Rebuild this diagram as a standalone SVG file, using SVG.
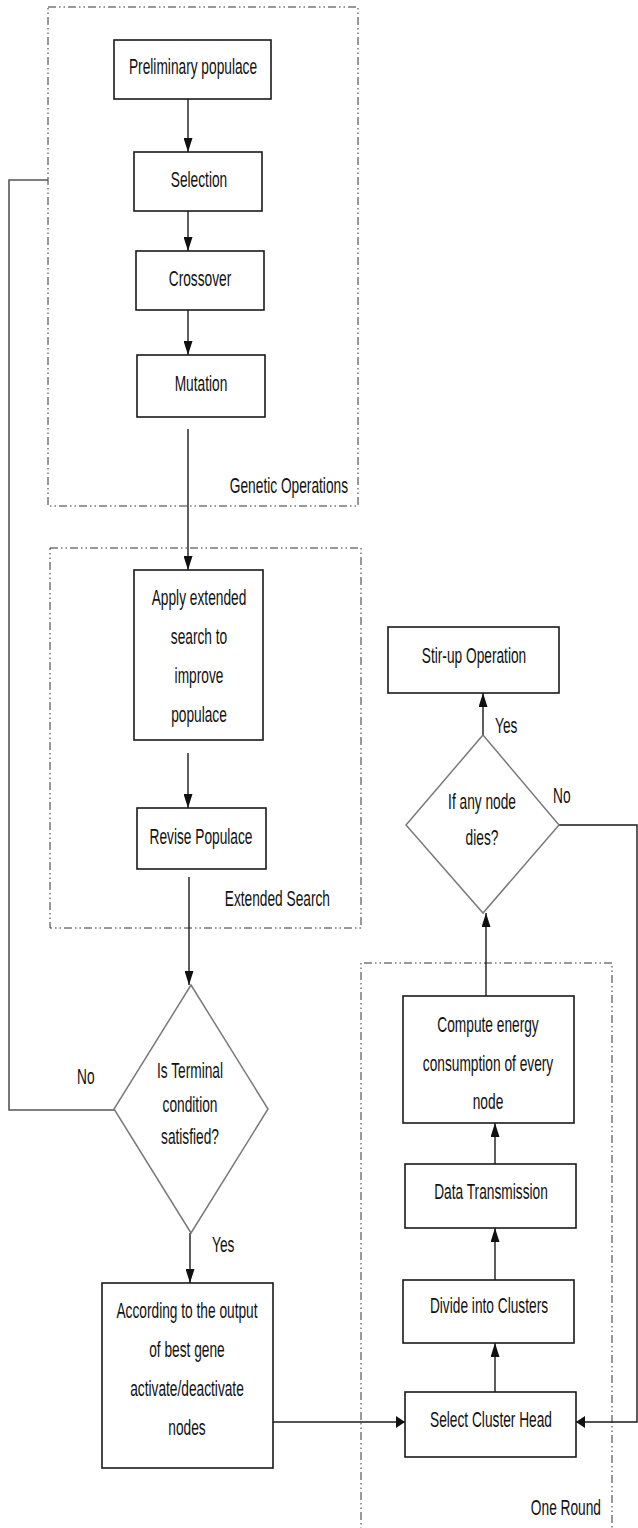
<svg xmlns="http://www.w3.org/2000/svg" width="638" height="1528" viewBox="0 0 638 1528">
<defs>
<style>
.bg{fill:#ffffff}
.box{fill:#ffffff;stroke:#1a1a1a;stroke-width:1.6}
.dia{fill:#ffffff;stroke:#7a7a7a;stroke-width:1.5}
.grp{fill:none;stroke:#333333;stroke-width:1;stroke-dasharray:8 3 1.5 3 1.5 3}
.ln{fill:none;stroke:#1a1a1a;stroke-width:1.4}
.lng{fill:none;stroke:#555555;stroke-width:1.6}
text{font-family:"Liberation Sans",Arial,sans-serif;font-size:22.5px;fill:#111111}
.c{text-anchor:middle}
.e{text-anchor:end}
</style>
<marker id="av" viewBox="0 0 14 9" refX="14" refY="4.5" markerWidth="14" markerHeight="9" markerUnits="userSpaceOnUse" orient="auto">
<path d="M0,0 L14,4.5 L0,9 z" fill="#111111"/>
</marker>
<marker id="ah" viewBox="0 0 9 12" refX="9" refY="6" markerWidth="9" markerHeight="12" markerUnits="userSpaceOnUse" orient="auto">
<path d="M0,0 L9,6 L0,12 z" fill="#111111"/>
</marker>
</defs>
<rect class="bg" x="0" y="0" width="638" height="1528"/>

<g id="group-genetic">
<rect class="grp" x="48" y="7" width="310" height="499"/>
<text class="e" transform="translate(348 493) scale(0.61 1)">Genetic Operations</text>
</g>
<g id="group-extended">
<rect class="grp" x="50" y="548" width="311" height="380"/>
<text class="e" transform="translate(330 906) scale(0.61 1)">Extended Search</text>
</g>
<g id="group-oneround">
<path class="grp" d="M361,1540 L361,963 L612,963 L612,1540"/>
<text class="e" transform="translate(601 1515) scale(0.61 1)">One Round</text>
</g>

<g id="connectors">
<line class="ln" x1="188" y1="99" x2="188" y2="152" marker-end="url(#av)"/>
<line class="ln" x1="188" y1="211" x2="188" y2="251" marker-end="url(#av)"/>
<line class="ln" x1="188" y1="310" x2="188" y2="355" marker-end="url(#av)"/>
<line class="ln" x1="188" y1="429" x2="188" y2="570" marker-end="url(#av)"/>
<line class="ln" x1="188" y1="753" x2="188" y2="808" marker-end="url(#av)"/>
<line class="ln" x1="189" y1="877" x2="189" y2="985" marker-end="url(#av)"/>
<line class="ln" x1="190" y1="1233" x2="190" y2="1283" marker-end="url(#av)"/>
<polyline class="lng" points="114,1110 9,1110 9,180 48,180"/>
<line class="ln" x1="273" y1="1422" x2="405" y2="1422" marker-end="url(#ah)"/>
<line class="ln" x1="495" y1="1392" x2="495" y2="1343" marker-end="url(#av)"/>
<line class="ln" x1="495" y1="1280" x2="495" y2="1228" marker-end="url(#av)"/>
<line class="ln" x1="495" y1="1164" x2="495" y2="1123" marker-end="url(#av)"/>
<line class="ln" x1="486" y1="996" x2="486" y2="913" marker-end="url(#av)"/>
<line class="ln" x1="483" y1="735" x2="483" y2="693" marker-end="url(#av)"/>
<polyline class="ln" points="559,825 637,825 637,1422 576,1422" marker-end="url(#ah)"/>
<text transform="translate(77 1084) scale(0.61 1)">No</text>
<text transform="translate(212 1252) scale(0.61 1)">Yes</text>
<text transform="translate(495 733) scale(0.61 1)">Yes</text>
<text transform="translate(553 803) scale(0.61 1)">No</text>
</g>

<g id="node-preliminary">
<rect class="box" x="114" y="40" width="157" height="59"/>
<text class="c" transform="translate(193 74) scale(0.61 1)">Preliminary populace</text>
</g>
<g id="node-selection">
<rect class="box" x="134" y="152" width="128" height="59"/>
<text class="c" transform="translate(199 187) scale(0.61 1)">Selection</text>
</g>
<g id="node-crossover">
<rect class="box" x="136" y="251" width="128" height="59"/>
<text class="c" transform="translate(200 286) scale(0.61 1)">Crossover</text>
</g>
<g id="node-mutation">
<rect class="box" x="137" y="355" width="128" height="62"/>
<text class="c" transform="translate(201 391) scale(0.61 1)">Mutation</text>
</g>
<g id="node-apply">
<rect class="box" x="134" y="570" width="129" height="170"/>
<text class="c" transform="translate(199 605) scale(0.61 1)">Apply extended</text>
<text class="c" transform="translate(199 644) scale(0.61 1)">search to</text>
<text class="c" transform="translate(199 683) scale(0.61 1)">improve</text>
<text class="c" transform="translate(199 722) scale(0.61 1)">populace</text>
</g>
<g id="node-revise">
<rect class="box" x="137" y="808" width="129" height="61"/>
<text class="c" transform="translate(201 844) scale(0.61 1)">Revise Populace</text>
</g>
<g id="node-terminal">
<polygon class="dia" points="191,985 268,1109 191,1233 114,1109"/>
<text class="c" transform="translate(190 1078) scale(0.61 1)">Is Terminal</text>
<text class="c" transform="translate(190 1112) scale(0.61 1)">condition</text>
<text class="c" transform="translate(190 1144) scale(0.61 1)">satisfied?</text>
</g>
<g id="node-according">
<rect class="box" x="102" y="1283" width="171" height="185"/>
<text class="c" transform="translate(187 1318) scale(0.61 1)">According to the output</text>
<text class="c" transform="translate(187 1357) scale(0.61 1)">of best gene</text>
<text class="c" transform="translate(187 1396) scale(0.61 1)">activate/deactivate</text>
<text class="c" transform="translate(187 1435) scale(0.61 1)">nodes</text>
</g>
<g id="node-stirup">
<rect class="box" x="388" y="627" width="171" height="66"/>
<text class="c" transform="translate(474 663) scale(0.61 1)">Stir-up Operation</text>
</g>
<g id="node-dies">
<polygon class="dia" points="483,735 559,825 483,913 406,825"/>
<text class="c" transform="translate(482 809) scale(0.61 1)">If any node</text>
<text class="c" transform="translate(482 845) scale(0.61 1)">dies?</text>
</g>
<g id="node-compute">
<rect class="box" x="403" y="996" width="171" height="127"/>
<text class="c" transform="translate(488 1032) scale(0.61 1)">Compute energy</text>
<text class="c" transform="translate(488 1071) scale(0.61 1)">consumption of every</text>
<text class="c" transform="translate(488 1109) scale(0.61 1)">node</text>
</g>
<g id="node-data">
<rect class="box" x="405" y="1164" width="171" height="64"/>
<text class="c" transform="translate(491 1199) scale(0.61 1)">Data Transmission</text>
</g>
<g id="node-divide">
<rect class="box" x="403" y="1280" width="171" height="63"/>
<text class="c" transform="translate(489 1313) scale(0.61 1)">Divide into Clusters</text>
</g>
<g id="node-select">
<rect class="box" x="405" y="1392" width="171" height="65"/>
<text class="c" transform="translate(491 1427) scale(0.61 1)">Select Cluster Head</text>
</g>
</svg>
